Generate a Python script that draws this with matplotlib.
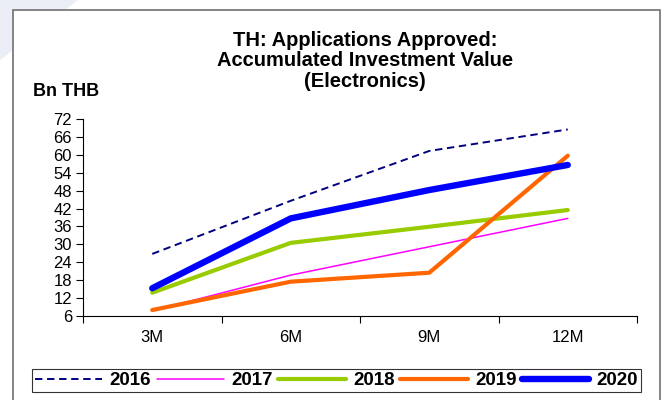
import matplotlib.pyplot as plt
from matplotlib.patches import Rectangle, Polygon

plt.rcParams["font.family"] = ["Liberation Sans", "DejaVu Sans"]

# accumulated approved investment, electronics (Bn THB)
PERIODS = ["3M", "6M", "9M", "12M"]
Y2016 = [26.8, 44.6, 61.3, 68.5]
Y2017 = [7.7, 19.7, 29.2, 38.7]
Y2018 = [13.8, 30.5, 35.9, 41.5]
Y2019 = [8.0, 17.5, 20.5, 59.7]
Y2020 = [15.3, 38.7, 48.2, 56.6]
Y_TICKS = list(range(6, 73, 6))

W, H = 662, 400


def px(x, y):
    # pixel position (from top-left) -> figure fraction
    return x / W, 1 - y / H


def main():
    fig = plt.figure(figsize=(W / 100, H / 100), dpi=100)

    # faint swoosh in the top-left corner
    fig.patches.append(Polygon([px(0, 0), px(78, 0), px(0, 60)], closed=True,
                               transform=fig.transFigure, facecolor="#eceef7",
                               edgecolor="none", zorder=-2))
    # outer chart frame
    x0, y0 = px(13, 10)
    fig.patches.append(Rectangle((x0, -0.05), 660 / W - x0, y0 + 0.05,
                                 transform=fig.transFigure, facecolor="white",
                                 edgecolor="#707070", lw=1.2, zorder=-1))

    l, t = px(83, 119)
    r, b = px(637, 316)
    ax = fig.add_axes([l, b, r - l, t - b])
    ax.patch.set_alpha(0)
    ax.set_zorder(1)

    xs = [i + 0.5 for i in range(len(PERIODS))]
    series = [
        ("2016", Y2016, "#000080", 1.4, (0, (3.8, 2.4))),
        ("2017", Y2017, "#ff00ff", 1.1, "-"),
        ("2018", Y2018, "#99cc00", 3.0, "-"),
        ("2019", Y2019, "#ff6600", 3.0, "-"),
        ("2020", Y2020, "#0000ff", 4.6, "-"),
    ]
    for name, vals, col, lw, ls in series:
        ax.plot(xs, vals, color=col, lw=lw, ls=ls, label=name,
                solid_capstyle="round", dash_capstyle="butt")

    ax.set_xlim(0, len(PERIODS))
    ax.set_ylim(6, 72)
    ax.set_yticks(Y_TICKS)
    ax.set_xticks(range(len(PERIODS) + 1))
    ax.set_xticklabels([])
    ax.set_xticks(xs, minor=True)
    ax.set_xticklabels(PERIODS, minor=True)
    ax.tick_params(axis="x", which="major", length=5, width=0.8, direction="out")
    ax.tick_params(axis="x", which="minor", length=0, pad=10, labelsize=12)
    ax.tick_params(axis="y", length=5, width=0.8, direction="out", pad=3,
                   labelsize=12)
    for s in ("top", "right"):
        ax.spines[s].set_visible(False)
    for s in ("left", "bottom"):
        ax.spines[s].set_linewidth(0.8)

    fig.text(*px(365, 61), "TH: Applications Approved:\nAccumulated Investment Value\n(Electronics)",
             ha="center", va="center", fontsize=14.5, fontweight="bold",
             linespacing=1.12)
    fig.text(*px(33, 92), "Bn THB", ha="left", va="center", fontsize=13,
             fontweight="bold")

    lx0, ly0 = px(32, 392)
    lx1, ly1 = px(641, 368)
    leg = fig.legend(loc="lower left", bbox_to_anchor=(lx0, ly0, lx1 - lx0, ly1 - ly0),
                     mode="expand", ncol=5, frameon=True, fancybox=False,
                     edgecolor="black", handlelength=3.6, handletextpad=0.4,
                     borderaxespad=0, borderpad=0.15,
                     prop={"weight": "bold", "size": 13.5})
    leg.get_frame().set_linewidth(0.8)

    fig.savefig("out.png", dpi=100)
    plt.close(fig)


if __name__ == "__main__":
    main()
